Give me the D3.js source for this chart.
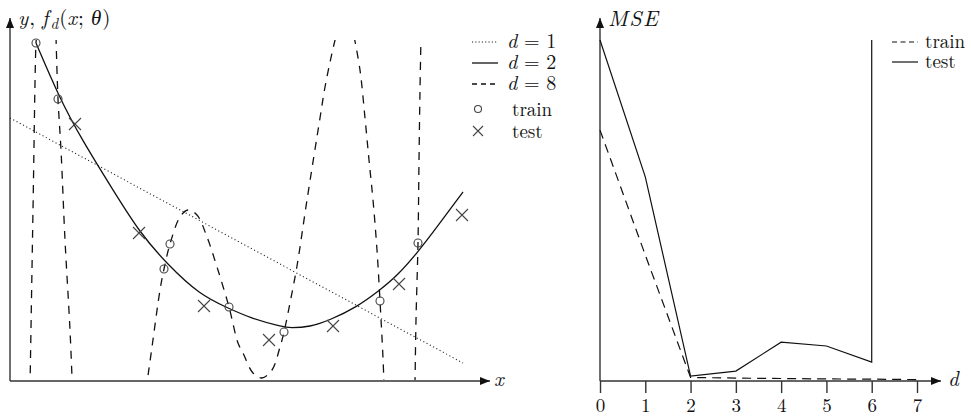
<!DOCTYPE html>
<html><head><meta charset="utf-8">
<script src="https://cdn.jsdelivr.net/npm/d3@7"></script>
<style>
body{margin:0;background:#fff;}
</style></head><body>
<svg id="chart" width="971" height="419"></svg>
<script>
// ---- left panel: samples ----
const trainX = [0.65, 1.2, 3.85, 4.0, 5.475, 6.85, 9.25, 10.2];
const trainY = [8.425, 7.025, 2.775, 3.4, 1.825, 1.2, 1.975, 3.425];
const testX = [1.625, 3.225, 4.85, 6.475, 8.075, 9.725, 11.3];
const testY = [6.4, 3.675, 1.85, 1.0, 1.35, 2.4, 4.125];

// ---- left panel: fitted polynomials (NaN separates pieces that leave the plot) ----
const fit1X = [0, 11.325];
const fit1Y = [6.55, 0.425];
const fit2X = [0.65, 1.225, 1.8, 2.575, 3.25, 3.925, 4.75, 5.45, 6.0, 6.825, 7.0, 7.5, 8.0, 8.675, 9.25, 9.675, 10.2, 10.675, 11.175, 11.325];
const fit2Y = [8.425, 7.075, 6.0, 4.75, 3.675, 2.9, 2.125, 1.8, 1.55, 1.325, 1.3, 1.325, 1.5, 1.825, 2.25, 2.6, 3.2, 3.825, 4.5, 4.7];
const fit8X = [0.5, 0.575, 0.65, 0.665, NaN,
  1.15, 1.2, 1.275, 1.375, 1.5, 1.56, NaN,
  3.4, 3.55, 3.75, 3.85, 4.0, 4.25, 4.45, 4.675, 4.925, 5.175, 5.475, 5.7, 5.825, 6.075, 6.3, 6.55, 6.75, 6.85, 7.0, 7.175, 7.425, 7.75, 7.875, 8.05, 8.15, NaN,
  8.6, 8.75, 8.875, 8.975, 9.075, 9.175, 9.25, 9.325, 9.35, NaN,
  10.125, 10.15, 10.2, 10.225, 10.25, 10.275];
const fit8Y = [-0.2, 4.25, 8.425, 8.6, NaN,
  8.6, 7.025, 5.75, 3.5, 1.25, -0.2, NaN,
  -0.25, 0.825, 2.25, 2.775, 3.4, 4.075, 4.25, 4.125, 3.575, 2.825, 1.825, 0.925, 0.675, 0.175, 0.05, 0.25, 0.825, 1.2, 1.925, 2.85, 4.5, 6.55, 7.325, 8.175, 8.6, NaN,
  8.6, 7.75, 6.55, 5.5, 4.5, 3.25, 1.975, 0.55, -0.125, NaN,
  -0.125, 1.5, 3.425, 5.5, 7.25, 8.6];

// ---- right panel: error against polynomial degree ----
const degrees = [0, 1, 2, 3, 4, 5, 6, 7];
const trainMSE = [5.88, 2.94, 0.06, 0.045, 0.035, 0.025, 0.02, 0.01];
const testDegrees = [0, 1, 2, 3, 4, 5, 6, 6];
const testMSE = [8.0, 4.78, 0.09, 0.21, 0.89, 0.8, 0.42, 8.0];
const dTicks = [0, 1, 2, 3, 4, 5, 6, 7];

const fitLegend = ["1", "2", "8"];
const errLegend = ["train", "test"];

const FONT = '"Latin Modern Roman", "Liberation Serif", serif';
const svg = d3.select("#chart");
const INK = "#111";
const AXIS = "#333";
const txt = (g, x, y, size) => g.append("text").attr("x", x).attr("y", y)
  .attr("font-size", size).style("font-family", FONT).attr("fill", INK);

// arrowhead
svg.append("defs").append("marker")
  .attr("id", "arr").attr("markerUnits", "userSpaceOnUse")
  .attr("markerWidth", 11).attr("markerHeight", 9)
  .attr("refX", 10).attr("refY", 4).attr("orient", "auto")
  .append("path").attr("d", "M0,0 L10,4 L0,8 Z").attr("fill", "#111");

svg.select("defs").append("clipPath").attr("id", "clipL")
  .append("rect").attr("x", 10).attr("y", 40).attr("width", 480).attr("height", 340);

// ================= left panel =================
const xL = d3.scaleLinear([0, 12], [10, 490]);
const yL = d3.scaleLinear([0, 8.5], [380, 40]);

const gL = svg.append("g");
gL.append("line").attr("x1", xL(0)).attr("y1", yL(0) + 1).attr("x2", xL(12)).attr("y2", yL(0) + 1)
  .attr("stroke", AXIS).attr("stroke-width", 1.4).attr("marker-end", "url(#arr)");
gL.append("line").attr("x1", xL(0)).attr("y1", yL(0) + 1).attr("x2", xL(0)).attr("y2", 18)
  .attr("stroke", AXIS).attr("stroke-width", 1.4).attr("marker-end", "url(#arr)");

const zip = (a, b) => a.map((v, i) => [v, b[i]]);
const lineFit2 = d3.line().x(d => xL(d[0])).y(d => yL(d[1])).curve(d3.curveBasis);
const lineFit8 = d3.line()
  .defined(d => !isNaN(d[0]) && !isNaN(d[1]))
  .x(d => xL(d[0])).y(d => yL(d[1]))
  .curve(d3.curveCatmullRom.alpha(0.5));

const curves = gL.append("g").attr("clip-path", "url(#clipL)").attr("fill", "none");
curves.append("path").datum(zip(fit1X, fit1Y)).attr("d", d3.line().x(d => xL(d[0])).y(d => yL(d[1])))
  .attr("stroke", "#222").attr("stroke-width", 1.1).attr("stroke-dasharray", "1.1,2.6");
curves.append("path").datum(zip(fit2X, fit2Y)).attr("d", lineFit2)
  .attr("stroke", INK).attr("stroke-width", 1.3);
curves.append("path").datum(zip(fit8X, fit8Y)).attr("d", lineFit8)
  .attr("stroke", INK).attr("stroke-width", 1.3).attr("stroke-dasharray", "8,7");

// markers
gL.selectAll("circle.train").data(zip(trainX, trainY)).join("circle")
  .attr("class", "train").attr("cx", d => xL(d[0])).attr("cy", d => yL(d[1])).attr("r", 4)
  .attr("fill", "none").attr("stroke", "#444").attr("stroke-width", 1.1);
const cross = (g, cx, cy, s) => g.append("path")
  .attr("d", `M${cx - s},${cy - s}L${cx + s},${cy + s}M${cx - s},${cy + s}L${cx + s},${cy - s}`)
  .attr("stroke", "#444").attr("stroke-width", 1.1).attr("fill", "none");
zip(testX, testY).forEach(d => cross(gL, xL(d[0]), yL(d[1]), 6));

// axis labels
const yLab = txt(gL, 18, 25, 21);
yLab.append("tspan").attr("font-style", "italic").text("y");
yLab.append("tspan").attr("dx", 1).text(", ");
yLab.append("tspan").attr("font-style", "italic").text("f");
yLab.append("tspan").attr("font-style", "italic").attr("font-size", 15).attr("dy", 4).attr("dx", 2).text("d");
yLab.append("tspan").attr("dy", -4).attr("dx", 1).text("(");
yLab.append("tspan").attr("font-style", "italic").text("x");
yLab.append("tspan").attr("dx", 1).text("; ");
yLab.append("tspan").attr("font-style", "italic").text("θ");
yLab.append("tspan").attr("dx", 1).text(")");
txt(gL, 494, 386, 21).attr("font-style", "italic").text("x");

// legend
const legY = [42, 63, 84, 109, 131];
const legStyle = ["1.1,2.2", null, "5,4"];
fitLegend.forEach((v, i) => {
  gL.append("line").attr("x1", 472).attr("x2", 498).attr("y1", legY[i]).attr("y2", legY[i])
    .attr("stroke", INK).attr("stroke-width", i === 0 ? 1 : 1.3)
    .attr("stroke-dasharray", legStyle[i]);
  txt(gL, 507, legY[i] + 6, 20).attr("font-style", "italic").text("d");
  txt(gL, 524, legY[i] + 6, 20).text("= " + v);
});
gL.append("circle").attr("cx", 478).attr("cy", legY[3]).attr("r", 3.5)
  .attr("fill", "none").attr("stroke", "#444").attr("stroke-width", 1.1);
txt(gL, 512, legY[3] + 7, 19).text(errLegend[0]);
cross(gL, 478, legY[4], 5);
txt(gL, 512, legY[4] + 7, 19).text(errLegend[1]);

// ================= right panel =================
const xR = d3.scaleLinear([0, 7], [600, 917]);
const yR = d3.scaleLinear([0, 8], [380, 40]);
const gR = svg.append("g");

gR.append("g").attr("transform", `translate(0,${yR(0) + 1})`)
  .call(d3.axisBottom(xR).tickValues(dTicks).tickFormat(d3.format("d")).tickSize(12).tickPadding(6))
  .call(g => g.select(".domain").remove())
  .call(g => g.selectAll(".tick line").attr("stroke", AXIS).attr("stroke-width", 1.4))
  .call(g => g.selectAll(".tick text").attr("font-size", 19).attr("fill", INK).style("font-family", FONT));
gR.append("line").attr("x1", xR(0)).attr("y1", yR(0) + 1).attr("x2", 941).attr("y2", yR(0) + 1)
  .attr("stroke", AXIS).attr("stroke-width", 1.4).attr("marker-end", "url(#arr)");
gR.append("line").attr("x1", xR(0)).attr("y1", yR(0) + 1).attr("x2", xR(0)).attr("y2", 18)
  .attr("stroke", AXIS).attr("stroke-width", 1.4).attr("marker-end", "url(#arr)");

const lineR = d3.line().x(d => xR(d[0])).y(d => yR(d[1]));
gR.append("path").datum(zip(degrees, trainMSE)).attr("d", lineR)
  .attr("fill", "none").attr("stroke", INK).attr("stroke-width", 1.2).attr("stroke-dasharray", "9,6");
gR.append("path").datum(zip(testDegrees, testMSE)).attr("d", lineR)
  .attr("fill", "none").attr("stroke", INK).attr("stroke-width", 1.2);

txt(gR, 608, 26, 22).attr("font-style", "italic").attr("letter-spacing", 1.5).text("MSE");
txt(gR, 948, 386, 21).attr("font-style", "italic").text("d");

// legend
const rLegY = [42, 62];
errLegend.forEach((v, i) => {
  gR.append("line").attr("x1", 892).attr("x2", 918).attr("y1", rLegY[i]).attr("y2", rLegY[i])
    .attr("stroke", INK).attr("stroke-width", 1.2).attr("stroke-dasharray", i === 0 ? "5,3.5" : null);
  txt(gR, 925, rLegY[i] + 6, 19).text(v);
});
</script>
</body></html>
